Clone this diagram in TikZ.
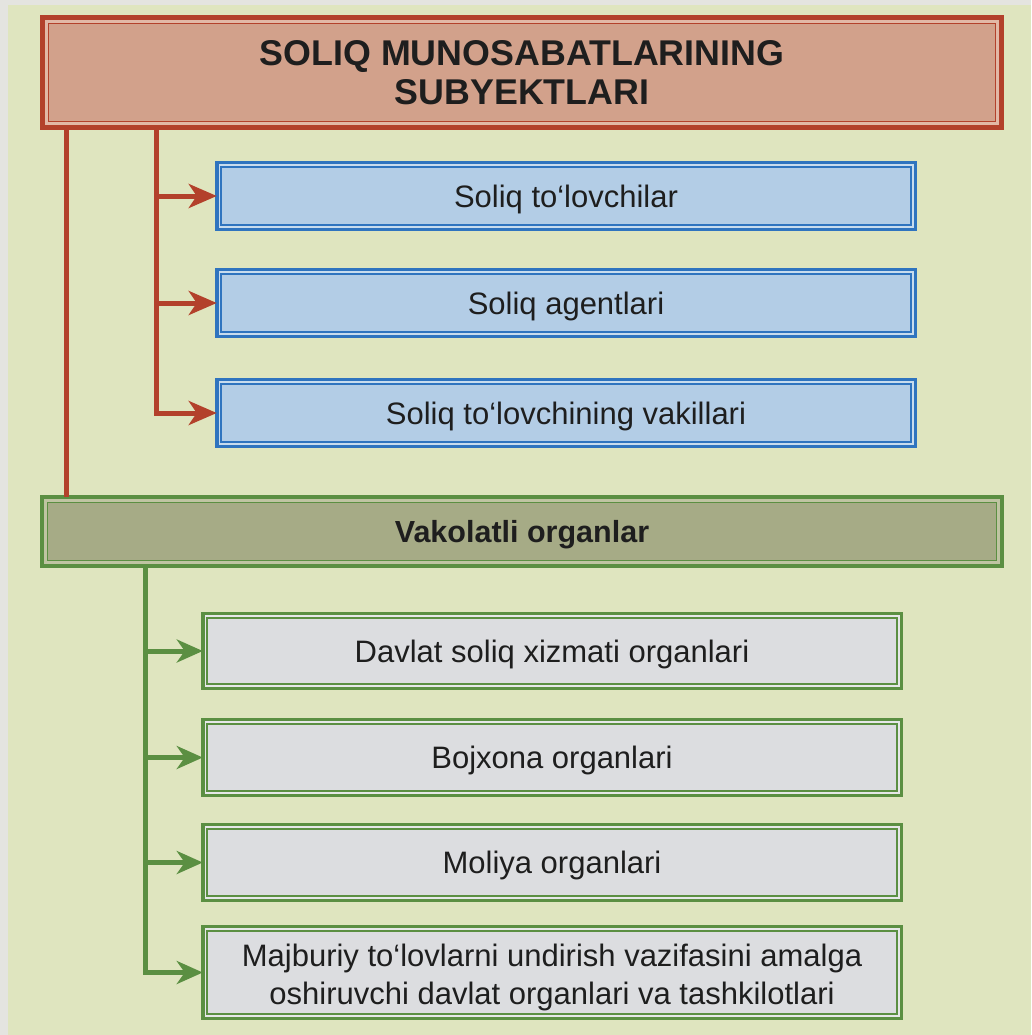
\documentclass[tikz,border=0pt]{standalone}
\usepackage{fontspec}
\setmainfont{Liberation Sans}
\usetikzlibrary{arrows.meta}
\definecolor{outergray}{HTML}{E4E4E0}
\definecolor{bggreen}{HTML}{DFE5BF}
\definecolor{tred}{HTML}{B3412B}
\definecolor{tfill}{HTML}{D2A18B}
\definecolor{tgap}{HTML}{E2B8A6}
\definecolor{bline}{HTML}{2F74BF}
\definecolor{bfill}{HTML}{B3CDE6}
\definecolor{bgap}{HTML}{C8DCEE}
\definecolor{gline}{HTML}{5B8F42}
\definecolor{vfill}{HTML}{A6AB86}
\definecolor{vgap}{HTML}{BFC4A2}
\definecolor{gfill}{HTML}{DCDDE0}
\definecolor{ggap}{HTML}{E6E7E8}
\definecolor{txt}{HTML}{1E1E1E}
\begin{document}
\begin{tikzpicture}[x=1pt,y=-1pt,
  dframe/.style n args={5}{draw=#1, line width=#2, fill=#3, outer sep=0pt, inner sep=0pt,
    text=txt, align=center,
    path picture={\draw[draw=#1, line width=1.7pt, fill=#4]
      ([shift={(#5,-#5)}]path picture bounding box.north west) rectangle
      ([shift={(-#5,#5)}]path picture bounding box.south east);}},
  titlebox/.style={dframe={tred}{5pt}{tgap}{tfill}{6pt}, minimum width=959pt, minimum height=110pt,
    font=\bfseries\fontsize{35.8}{39.5}\selectfont},
  bluebox/.style={dframe={bline}{3.5pt}{bgap}{bfill}{4.5pt}, minimum width=698.5pt, minimum height=67pt,
    font=\fontsize{31}{38}\selectfont, text depth=0pt},
  vakbox/.style={dframe={gline}{4pt}{vgap}{vfill}{5.5pt}, minimum width=960pt, minimum height=69pt,
    font=\bfseries\fontsize{30.5}{38}\selectfont, text depth=0pt},
  graybox/.style={dframe={gline}{3.5pt}{ggap}{gfill}{4.5pt}, minimum width=698.5pt,
    font=\fontsize{31}{38}\selectfont},
  rconn/.style={draw=tred, line width=5pt},
  gconn/.style={draw=gline, line width=5pt},
  rarrow/.style={rconn, -{Stealth[length=28pt, width=24pt, inset=8pt]}},
  garrow/.style={gconn, -{Stealth[length=26pt, width=23pt, inset=8pt]}}
]
\useasboundingbox (0,0) rectangle (1031,1035);
\fill[outergray] (0,0) rectangle (1031,1035);
\fill[bggreen] (8,5) rectangle (1031,1035);

\node[titlebox] (title) at (522,72.5) {SOLIQ MUNOSABATLARINING\\SUBYEKTLARI};
\node[bluebox] (b1) at (566,196) {Soliq to‘lovchilar};
\node[bluebox] (b2) at (566,303) {Soliq agentlari};
\node[bluebox] (b3) at (566,413) {Soliq to‘lovchining vakillari};
\node[vakbox] (vak) at (522,531.5) {Vakolatli organlar};
\node[graybox, minimum height=75pt, text depth=0pt] (g1) at (552,651) {Davlat soliq xizmati organlari};
\node[graybox, minimum height=76pt, text depth=0pt] (g2) at (552,757.5) {Bojxona organlari};
\node[graybox, minimum height=76pt, text depth=0pt] (g3) at (552,862.5) {Moliya organlari};
\node[graybox, minimum height=92pt, text height=63pt, text depth=0pt] (g4) at (552,972.5) {Majburiy to‘lovlarni undirish vazifasini amalga\\oshiruvchi davlat organlari va tashkilotlari};

% red connectors
\draw[rconn] (title.south -| 66,0) -- (vak.north -| 66,0);
\draw[rarrow] (title.south -| 156,0) |- (b3.west);
\draw[rarrow] (b1.west -| 156,0) -- (b1.west);
\draw[rarrow] (b2.west -| 156,0) -- (b2.west);

% green connectors
\draw[garrow] (vak.south -| 145,0) |- (g4.west);
\draw[garrow] (g1.west -| 145,0) -- (g1.west);
\draw[garrow] (g2.west -| 145,0) -- (g2.west);
\draw[garrow] (g3.west -| 145,0) -- (g3.west);
\end{tikzpicture}
\end{document}
